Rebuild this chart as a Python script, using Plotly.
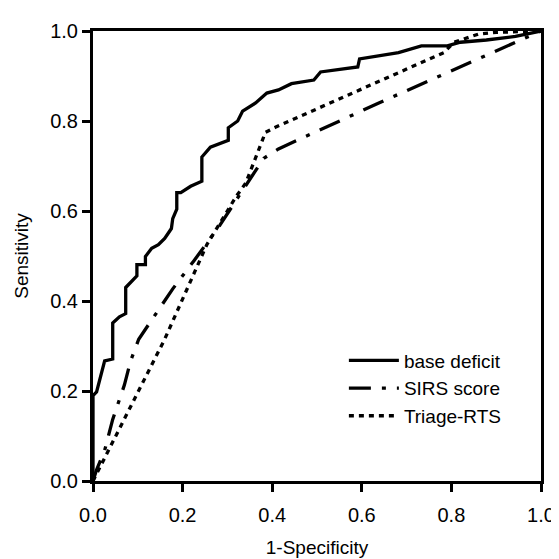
import plotly.graph_objects as go

# ---- data ----
bd_x = [0.0, 0.0, 0.008, 0.026, 0.044, 0.044, 0.059, 0.073, 0.073, 0.084, 0.098, 0.098,
        0.117, 0.117, 0.131, 0.146, 0.160, 0.175, 0.178, 0.187, 0.187, 0.196, 0.218,
        0.243, 0.243, 0.262, 0.283, 0.302, 0.302, 0.323, 0.334, 0.363, 0.388, 0.414,
        0.443, 0.493, 0.508, 0.559, 0.591, 0.595, 0.638, 0.682, 0.733, 0.791, 0.820,
        0.878, 0.943, 1.0]
bd_y = [0.0, 0.190, 0.198, 0.267, 0.271, 0.351, 0.365, 0.372, 0.430, 0.441, 0.456, 0.481,
        0.481, 0.499, 0.517, 0.525, 0.539, 0.561, 0.583, 0.604, 0.641, 0.641, 0.655,
        0.666, 0.720, 0.742, 0.749, 0.757, 0.785, 0.800, 0.822, 0.840, 0.862, 0.869,
        0.883, 0.891, 0.909, 0.916, 0.920, 0.938, 0.945, 0.952, 0.967, 0.967, 0.975,
        0.980, 0.988, 1.0]

sirs_x = [0.0, 0.008, 0.026, 0.044, 0.070, 0.084, 0.102, 0.146, 0.178, 0.225, 0.262,
          0.283, 0.330, 0.363, 0.381, 0.414, 0.638, 1.0]
sirs_y = [0.0, 0.025, 0.068, 0.137, 0.213, 0.267, 0.315, 0.380, 0.427, 0.489, 0.539,
          0.568, 0.640, 0.691, 0.717, 0.738, 0.840, 1.0]

rts_x = [0.0, 0.160, 0.254, 0.320, 0.341, 0.363, 0.385, 0.407, 0.646, 0.783, 0.806,
         0.860, 0.900, 1.0]
rts_y = [0.0, 0.315, 0.525, 0.633, 0.662, 0.720, 0.775, 0.786, 0.891, 0.952, 0.975,
         0.993, 0.997, 1.0]

names = ["base deficit", "SIRS score", "Triage-RTS"]
tick_vals = [0.0, 0.2, 0.4, 0.6, 0.8, 1.0]
tick_text = ["0.0", "0.2", "0.4", "0.6", "0.8", "1.0"]

FONT = "Liberation Sans, Arial, Helvetica, sans-serif"

fig = go.Figure()
fig.add_trace(go.Scatter(x=bd_x, y=bd_y, mode="lines", name=names[0],
                         line=dict(color="black", width=3.3, dash="solid")))
fig.add_trace(go.Scatter(x=sirs_x, y=sirs_y, mode="lines", name=names[1],
                         line=dict(color="black", width=3.3, dash="22px,11px,4px,11px")))
fig.add_trace(go.Scatter(x=rts_x, y=rts_y, mode="lines", name=names[2],
                         line=dict(color="black", width=3.3, dash="5px,5px")))

axis_common = dict(
    range=[0, 1], tickvals=tick_vals, ticktext=tick_text,
    showgrid=False, zeroline=False, showline=True, linecolor="black", linewidth=3,
    mirror=True, ticks="outside", ticklen=8, tickwidth=2.5, tickcolor="black",
    tickfont=dict(family=FONT, size=20, color="black"),
)

fig.update_xaxes(**axis_common, ticklabelstandoff=6,
                 title=dict(text="1-Specificity", font=dict(family=FONT, size=19, color="black"),
                            standoff=16))
fig.update_yaxes(**axis_common,
                 title=dict(text="Sensitivity", font=dict(family=FONT, size=19, color="black"),
                            standoff=17))

fig.update_layout(
    width=559, height=559,
    margin=dict(l=83, r=16, t=18, b=81),
    plot_bgcolor="white", paper_bgcolor="white",
    showlegend=True,
    legend=dict(x=0.56, y=0.31, xanchor="left", yanchor="top",
                bgcolor="rgba(0,0,0,0)", borderwidth=0,
                font=dict(family=FONT, size=19, color="black"),
                itemwidth=50, tracegroupgap=0),
)

fig.write_html("out.html")
